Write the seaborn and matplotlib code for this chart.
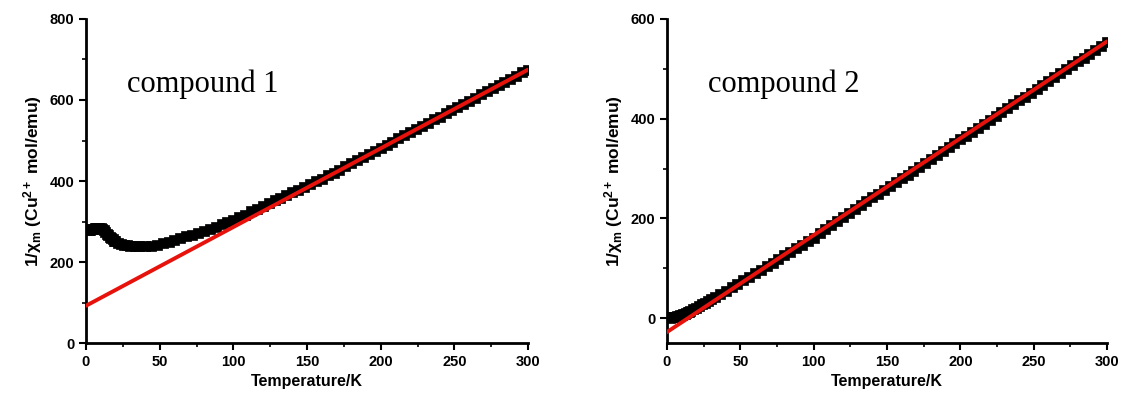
import numpy as np
import pandas as pd
import matplotlib
matplotlib.use('Agg')
import matplotlib.pyplot as plt
import seaborn as sns

# compound 1: 1/chi_m vs T
t1 = [2, 3, 4, 5, 6, 7, 8, 9, 10, 11, 12, 13, 14, 15, 16, 17, 18, 19, 20, 22, 24, 26, 28, 30,
      33, 36, 40, 44, 48, 52, 56, 60, 64, 68, 72, 76, 80, 84, 88, 92, 96, 100,
      104, 108, 112, 116, 120, 124, 128, 132, 136, 140, 144, 148, 152, 156, 160,
      164, 168, 172, 176, 180, 184, 188, 192, 196, 200, 204, 208, 212, 216, 220,
      224, 228, 232, 236, 240, 244, 248, 252, 256, 260, 264, 268, 272, 276, 280,
      284, 288, 292, 296, 300]
chi1 = [280, 280, 281, 282, 283, 284, 284, 284, 283, 281, 278, 274, 270, 266, 262, 259, 256, 253, 251, 248, 245, 243, 241, 240,
        239, 239, 239, 240, 243, 246, 250, 254, 259, 263, 267, 272, 277, 282, 287, 293, 298, 304,
        310, 317, 325, 331, 338, 345, 352, 358, 365, 372, 379, 386, 392, 399, 406,
        414, 420, 428, 436, 444, 452, 459, 467, 475, 482, 489, 497, 505, 513, 520,
        528, 536, 544, 552, 559, 567, 575, 583, 590, 598, 606, 614, 621, 629, 637,
        645, 653, 660, 668, 675]
fit1_t = [0, 300]
fit1_y = [92, 675]

# compound 2
t2 = [2, 3, 4, 5, 6, 7, 8, 9, 10, 11, 12, 13, 14, 15, 16, 18, 20, 22, 24, 26, 28, 30,
      33, 36, 40, 44, 48, 52, 56, 60, 64, 68, 72, 76, 80, 84, 88, 92, 96, 100,
      104, 108, 112, 116, 120, 124, 128, 132, 136, 140, 144, 148, 152, 156, 160,
      164, 168, 172, 176, 180, 184, 188, 192, 196, 200, 204, 208, 212, 216, 220,
      224, 228, 232, 236, 240, 244, 248, 252, 256, 260, 264, 268, 272, 276, 280,
      284, 288, 292, 296, 300]
chi2 = [1, 2, 2, 3, 3, 4, 5, 6, 7, 8, 9, 10, 12, 13, 15, 18, 21, 24, 28, 31, 35, 38,
        43, 48, 55, 62, 69, 76, 83, 90, 97, 104, 111, 118, 126, 133, 140, 147, 154, 161,
        171, 179, 187, 195, 203, 211, 218, 226, 234, 242, 249, 257, 265, 273, 281,
        288, 296, 304, 312, 320, 327, 335, 343, 351, 359, 366, 374, 382, 390, 398,
        405, 413, 421, 429, 437, 444, 452, 460, 468, 476, 483, 491, 499, 507, 515,
        522, 530, 538, 546, 554]
fit2_t = [0, 300]
fit2_y = [-28, 555]

sns.set_style('ticks', {'axes.edgecolor': 'black', 'text.color': 'black',
                        'axes.labelcolor': 'black', 'xtick.color': 'black',
                        'ytick.color': 'black'})
plt.rcParams['font.family'] = ['Liberation Sans', 'DejaVu Sans']
plt.rcParams['mathtext.fontset'] = 'custom'
plt.rcParams['mathtext.rm'] = 'Liberation Sans:bold'
plt.rcParams['mathtext.bf'] = 'Liberation Sans:bold'
plt.rcParams['mathtext.it'] = 'Liberation Sans:bold'
plt.rcParams['mathtext.default'] = 'regular'

fig = plt.figure(figsize=(11.24, 3.94), dpi=100)
ax1 = fig.add_axes([0.0765, 0.1294, 0.3933, 0.8224])
ax2 = fig.add_axes([0.5934, 0.1294, 0.3915, 0.8224])

panels = [
    (ax1, t1, chi1, fit1_t, fit1_y, (0, 800), [0, 200, 400, 600, 800], 'compound 1'),
    (ax2, t2, chi2, fit2_t, fit2_y, (-50, 600), [0, 200, 400, 600], 'compound 2'),
]

for ax, t, chi, ft, fy, ylim, yticks, name in panels:
    df = pd.DataFrame({'T': t, 'chi': chi})
    sns.scatterplot(data=df, x='T', y='chi', ax=ax, marker='s', s=42,
                    color='black', edgecolor='black', linewidth=0.5, zorder=2)
    fit = pd.DataFrame({'T': ft, 'y': fy})
    sns.lineplot(data=fit, x='T', y='y', ax=ax, color='#e8120c', linewidth=2.8, zorder=3)
    ax.set_xlim(0, 300)
    ax.set_ylim(*ylim)
    ax.set_xticks([0, 50, 100, 150, 200, 250, 300])
    ax.set_xticks([25, 75, 125, 175, 225, 275], minor=True)
    ax.set_yticks(yticks)
    ax.set_yticks([v + 100 for v in yticks[:-1]], minor=True)
    ax.tick_params(axis='both', which='major', direction='out', length=5, width=1.5,
                   labelsize=10.5)
    ax.tick_params(axis='both', which='minor', direction='out', length=3, width=1.2)
    for lab in ax.get_xticklabels() + ax.get_yticklabels():
        lab.set_fontweight('bold')
    for side in ['left', 'bottom']:
        ax.spines[side].set_linewidth(2)
    sns.despine(ax=ax)
    ax.set_xlabel('Temperature/K', fontsize=11.5, fontweight='bold')
    ax.set_ylabel(r'1/$\chi_{m}$ (Cu$^{2+}$ mol/emu)', fontsize=12.5, fontweight='bold')
    ax.text(0.093, 0.80, name, transform=ax.transAxes, fontsize=22,
            family=['Liberation Serif', 'DejaVu Serif'], va='center', ha='left')

fig.savefig('out.png', dpi=100)
